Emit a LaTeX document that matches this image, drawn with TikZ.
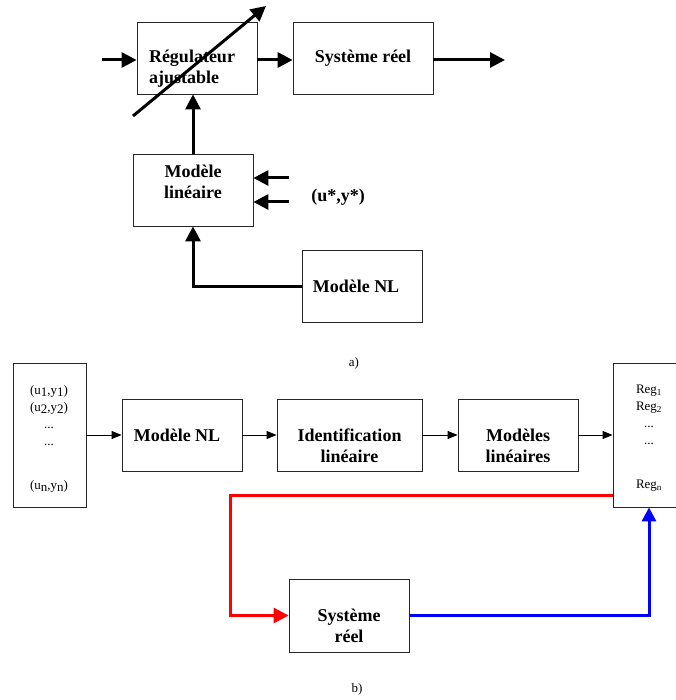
\documentclass[tikz,border=0pt]{standalone}
\usepackage{fontspec}
\setmainfont{Liberation Serif}
\usetikzlibrary{arrows.meta}
\tikzset{
  box/.style={draw=black!85, line width=0.8pt, inner sep=0pt},
  big/.style={font=\fontsize{18}{21}\selectfont\bfseries, inner sep=0pt},
  small/.style={font=\fontsize{13}{17}\selectfont, inner sep=0pt, align=center},
  thickarrow/.style={line width=3pt, -{Triangle[length=15pt,width=15pt]}},
  thinarrow/.style={line width=0.9pt, -{Triangle[length=10pt,width=8pt]}},
}
\begin{document}
\begin{tikzpicture}[x=1pt,y=-1pt]
\useasboundingbox (0,0) rectangle (675,700);
% ---- part a) ----
\node[box, minimum width=120pt, minimum height=72pt] (reg) at (197,58) {};
\node[box, minimum width=140pt, minimum height=72pt] (sys) at (363,58) {};
\node[box, minimum width=120pt, minimum height=72pt] (lin) at (193,190) {};
\node[box, minimum width=120pt, minimum height=72pt] (nl1) at (362,286) {};
\node[big, align=left] (treg) at (192,68.5) {Régulateur\\ajustable};
\node[big] (tsys) at (363,58) {Système réel};
\node[big, align=center] (tlin) at (193,182) {Modèle\\linéaire};
\node[big] (tnl1) at (356,286) {Modèle NL};
\node[big] (tu) at (338,197) {(u*,y*)};
\coordinate (inA) at (102,60);
\coordinate (outA) at (505,60);
\coordinate (dA) at (133,116);
\coordinate (dB) at (266,6);
\coordinate (u1) at (289,178);
\coordinate (u2) at (289,202);
\draw[thickarrow] (inA) -- (inA -| reg.west);
\draw[thickarrow] (reg.east |- inA) -- (sys.west |- inA);
\draw[thickarrow] (sys.east |- inA) -- (outA);
\draw[thickarrow] (dA) -- (dB);
\draw[thickarrow] (lin.north) -- (lin.north |- reg.south);
\draw[thickarrow] (u1) -- (u1 -| lin.east);
\draw[thickarrow] (u2) -- (u2 -| lin.east);
\draw[thickarrow] (nl1.west) -| (lin.south);
\node[small] (la) at (354,363) {a)};
% ---- part b) ----
\node[box, minimum width=73pt, minimum height=144pt] (data) at (49.5,435) {};
\node[box, minimum width=120pt, minimum height=72pt] (nl2) at (182,435) {};
\node[box, minimum width=145pt, minimum height=72pt] (ident) at (349.5,435) {};
\node[box, minimum width=120pt, minimum height=72pt] (mods) at (518,435) {};
\node[box, minimum width=72pt, minimum height=144pt] (reg2) at (649,435) {};
\node[box, minimum width=120pt, minimum height=73pt] (sys2) at (349,615.5) {};
\node[small] (tdata) at (49,439) {(u\raisebox{-0.15em}{1},y\raisebox{-0.15em}{1})\\(u\raisebox{-0.15em}{2},y\raisebox{-0.15em}{2})\\...\\...\\[27pt](u\raisebox{-0.15em}{n},y\raisebox{-0.15em}{n})};
\node[small] (treg2) at (649,438) {Reg\textsubscript{1}\\Reg\textsubscript{2}\\...\\...\\[27pt]Reg\textsubscript{n}};
\node[big] (tnl2) at (177,435) {Modèle NL};
\node[big, align=center] (tident) at (349.5,445.5) {Identification\\linéaire};
\node[big, align=center] (tmods) at (518,445.5) {Modèles\\linéaires};
\node[big, align=center] (tsys2) at (349,625.5) {Système\\réel};
\draw[thinarrow] (data.east) -- (nl2.west);
\draw[thinarrow] (nl2.east) -- (ident.west);
\draw[thinarrow] (ident.east) -- (mods.west);
\draw[thinarrow] (mods.east) -- (reg2.west);
\coordinate (rA) at (613,495);
\coordinate (rB) at (230,615.5);
\draw[red, line width=3pt, -{Triangle[length=15pt,width=15pt]}] (rA) -| (rB) -- (sys2.west);
\draw[blue, line width=3pt, -{Triangle[length=14pt,width=14pt]}] (sys2.east) -| (reg2.south);
\node[small] (lb) at (357,689) {b)};
\end{tikzpicture}
\end{document}
